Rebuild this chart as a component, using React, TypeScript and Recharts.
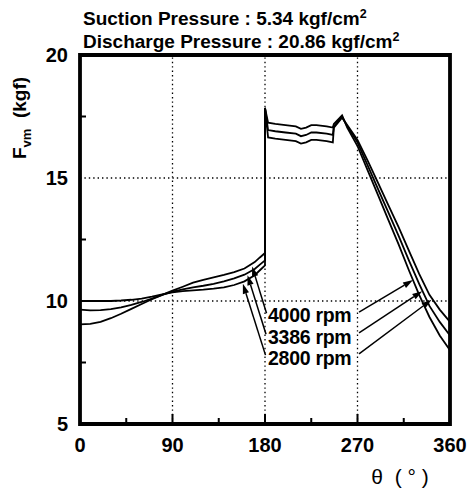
import React from 'react';
import { LineChart, Line, XAxis, YAxis, ReferenceLine, ReferenceArea, ReferenceDot } from 'recharts';

// crank angle θ (deg); 180 appears twice for the jump
const theta = [0, 10, 20, 30, 40, 50, 60, 70, 80, 90, 100, 110, 120, 130, 140, 150, 160, 170, 175, 180, 180, 183, 190, 200, 210, 215, 220, 225, 230, 240, 246, 247, 255, 260, 270, 280, 290, 300, 310, 320, 330, 340, 350, 360];

const f2800 = [10.0, 10.0, 10.0, 10.0, 10.02, 10.05, 10.1, 10.18, 10.27, 10.35, 10.4, 10.43, 10.46, 10.5, 10.55, 10.65, 10.8, 11.05, 11.25, 11.45, 17.85, 16.65, 16.6, 16.55, 16.5, 16.4, 16.45, 16.55, 16.55, 16.5, 16.45, 17.05, 17.45, 17.15, 16.55, 15.7, 14.8, 13.9, 13.0, 12.05, 11.1, 10.25, 9.65, 9.15];
const f3386 = [9.65, 9.62, 9.63, 9.67, 9.74, 9.84, 9.96, 10.1, 10.25, 10.38, 10.47, 10.55, 10.62, 10.7, 10.8, 10.92, 11.07, 11.3, 11.48, 11.65, 17.85, 16.95, 16.9, 16.85, 16.8, 16.7, 16.75, 16.85, 16.85, 16.8, 16.75, 17.1, 17.5, 17.1, 16.45, 15.5, 14.55, 13.6, 12.65, 11.65, 10.7, 9.8, 9.15, 8.6];
const f4000 = [9.05, 9.07, 9.15, 9.3, 9.48, 9.68, 9.88, 10.07, 10.25, 10.42, 10.58, 10.75, 10.86, 10.96, 11.06, 11.17, 11.32, 11.58, 11.77, 11.95, 17.85, 17.25, 17.2, 17.15, 17.1, 17.0, 17.05, 17.15, 17.15, 17.1, 17.05, 17.2, 17.55, 17.05, 16.3, 15.3, 14.3, 13.3, 12.3, 11.25, 10.25, 9.35, 8.6, 8.0];

const xTicks = [0, 45, 90, 135, 180, 225, 270, 315, 360];
const xMajor = [0, 90, 180, 270, 360];
const yTicks = [5, 7.5, 10, 12.5, 15, 17.5, 20];
const yMajor = [5, 10, 15, 20];
const gridX = [90, 180, 270];
const gridY = [10, 15];

const rpmNames = ['4000 rpm', '3386 rpm', '2800 rpm'];
const rpmTextTheta = [183, 183, 183];
const rpmTextF = [9.43, 8.54, 7.68];
// annotation arrows: [fromθ, fromF, toθ, toF]
const leftArrows = [
  [181.5, 9.5, 167.5, 11.4],
  [181, 8.65, 163, 11.05],
  [180.5, 7.8, 158.5, 10.7],
];
const rightArrows = [
  [271.5, 9.55, 324, 10.85],
  [271.5, 8.7, 333, 10.4],
  [271.5, 7.85, 342, 10.05],
];

const data = theta.map((t, i) => ({ theta: t, a: f2800[i], b: f3386[i], c: f4000[i] }));

const FONT = "'Liberation Sans', Arial, Helvetica, sans-serif";

const arrowShape = (props: any) => {
  const { x1, y1, x2, y2 } = props;
  const ang = Math.atan2(y2 - y1, x2 - x1);
  const L = 10;
  const W = 3.2;
  const bx = x2 - L * Math.cos(ang);
  const by = y2 - L * Math.sin(ang);
  const px = -Math.sin(ang) * W;
  const py = Math.cos(ang) * W;
  return (
    <g>
      <line x1={x1} y1={y1} x2={bx} y2={by} stroke="#000" strokeWidth={1.5} />
      <polygon points={`${x2},${y2} ${bx + px},${by + py} ${bx - px},${by - py}`} fill="#000" />
    </g>
  );
};

const XTick = (props: any) => {
  const { x, y, payload } = props;
  const v = payload.value;
  const major = xMajor.includes(v);
  return (
    <g>
      {v > 0 && v < 360 && (
        <line x1={x} x2={x} y1={y} y2={y - (major ? 10 : 6)} stroke="#000" strokeWidth={2} />
      )}
      {major && (
        <text x={x} y={y + 28} textAnchor="middle" fontFamily={FONT} fontWeight="bold" fontSize={20} fill="#000">
          {v}
        </text>
      )}
    </g>
  );
};

const YTick = (props: any) => {
  const { x, y, payload } = props;
  const v = payload.value;
  const major = yMajor.includes(v);
  return (
    <g>
      {!major && <line x1={x} x2={x + 6} y1={y} y2={y} stroke="#000" strokeWidth={2} />}
      {major && (
        <text x={x - 12} y={y + 7} textAnchor="end" fontFamily={FONT} fontWeight="bold" fontSize={20} fill="#000">
          {v}
        </text>
      )}
    </g>
  );
};

export default function App() {
  return (
    <div style={{ position: 'absolute', left: 0, top: 0, width: 475, height: 491, background: '#fff' }}>
      <LineChart
        width={475}
        height={491}
        data={data}
        margin={{ top: 55, right: 25, bottom: 37, left: 20 }}
      >
        <XAxis
          dataKey="theta"
          type="number"
          domain={[0, 360]}
          ticks={xTicks}
          interval={0}
          tickSize={0}
          tickMargin={0}
          axisLine={false}
          tickLine={false}
          tick={XTick}
          height={30}
        />
        <YAxis
          type="number"
          domain={[5, 20]}
          ticks={yTicks}
          interval={0}
          tickSize={0}
          tickMargin={0}
          axisLine={false}
          tickLine={false}
          tick={YTick}
          width={60}
        />
        {gridX.map((g) => (
          <ReferenceLine key={'gx' + g} x={g} stroke="#000" strokeWidth={1.3} strokeDasharray="1.4 3" />
        ))}
        {gridY.map((g) => (
          <ReferenceLine key={'gy' + g} y={g} stroke="#000" strokeWidth={1.3} strokeDasharray="1.4 3" />
        ))}
        <Line dataKey="a" type="linear" stroke="#000" strokeWidth={1.8} dot={false} isAnimationActive={false} />
        <Line dataKey="b" type="linear" stroke="#000" strokeWidth={1.8} dot={false} isAnimationActive={false} />
        <Line dataKey="c" type="linear" stroke="#000" strokeWidth={1.8} dot={false} isAnimationActive={false} />
        <ReferenceArea x1={0} x2={360} y1={5} y2={20} fill="none" fillOpacity={0} stroke="#000" strokeWidth={3.8} />
        {leftArrows.map((a, i) => (
          <ReferenceLine
            key={'la' + i}
            segment={[{ x: a[0], y: a[1] }, { x: a[2], y: a[3] }]}
            shape={arrowShape}
          />
        ))}
        {rightArrows.map((a, i) => (
          <ReferenceLine
            key={'ra' + i}
            segment={[{ x: a[0], y: a[1] }, { x: a[2], y: a[3] }]}
            shape={arrowShape}
          />
        ))}
        {rpmNames.map((n, i) => (
          <ReferenceDot
            key={'rt' + i}
            x={rpmTextTheta[i]}
            y={rpmTextF[i]}
            r={0}
            shape={(p: any) => (
              <text
                x={p.cx}
                y={p.cy + 7}
                textAnchor="start"
                fontFamily={FONT}
                fontWeight="bold"
                fontSize={19.5}
                letterSpacing={-0.3}
                fill="#000"
              >
                {n}
              </text>
            )}
          />
        ))}
      </LineChart>
      <svg
        width={475}
        height={491}
        style={{ position: 'absolute', left: 0, top: 0, pointerEvents: 'none' }}
      >
        <text x={83} y={25} fontFamily={FONT} fontWeight="bold" fontSize={19} fill="#000">
          Suction Pressure : 5.34 kgf/cm<tspan dy={-7} fontSize={12.5}>2</tspan>
        </text>
        <text x={83} y={48} fontFamily={FONT} fontWeight="bold" fontSize={19} fill="#000">
          Discharge Pressure : 20.86 kgf/cm<tspan dy={-7} fontSize={12.5}>2</tspan>
        </text>
        <text
          x={0}
          y={0}
          transform="translate(26,118) rotate(-90)"
          textAnchor="middle"
          fontFamily={FONT}
          fontWeight="bold"
          fontSize={19}
          fill="#000"
          style={{ whiteSpace: 'pre' }}
        >
          F<tspan dy={5} fontSize={13}>vm</tspan><tspan dy={-5}>  (kgf)</tspan>
        </text>
        <text
          x={400}
          y={484}
          textAnchor="middle"
          fontFamily={FONT}
          fontSize={21}
          fill="#000"
          style={{ whiteSpace: 'pre' }}
        >
          θ  ( ° )
        </text>
      </svg>
    </div>
  );
}
